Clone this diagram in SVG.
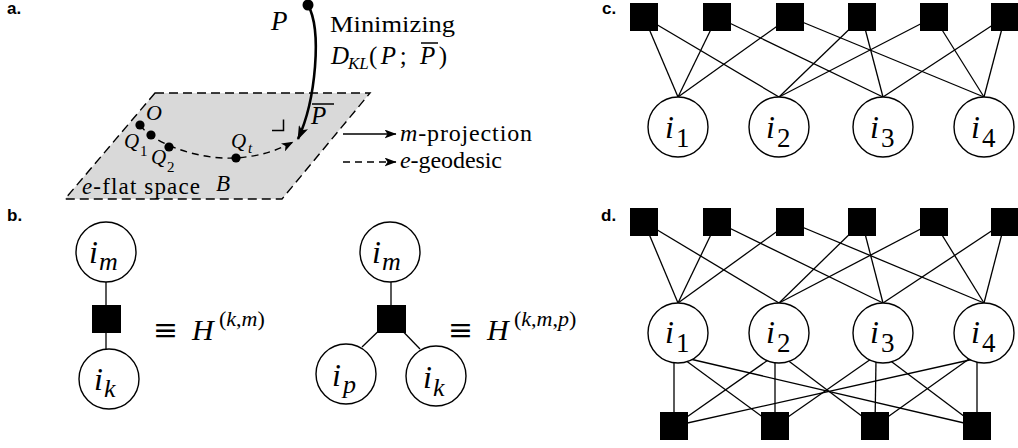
<svg xmlns="http://www.w3.org/2000/svg" width="1018" height="448" viewBox="0 0 1018 448">
<style>
.lbl{font-family:"Liberation Sans",Arial,sans-serif;font-weight:bold;font-size:17px;fill:#000}
.rm{font-style:normal;fill:#000}
.it{font-style:italic;fill:#000}
.edge{stroke:#000;stroke-width:1.3;fill:none}
.fac{fill:#000}
.var{fill:#fff;stroke:#000;stroke-width:1.4}
.dash{stroke:#000;stroke-width:1.4;fill:none;stroke-dasharray:7 5}
</style>
<defs>
<marker id="ahBig" viewBox="0 0 14 10" refX="13" refY="5" markerWidth="14" markerHeight="10" markerUnits="userSpaceOnUse" orient="auto"><path d="M0,0 L14,5 L0,10 L3.5,5 z" fill="#000"/></marker>
<marker id="ah" viewBox="0 0 12 9" refX="11.5" refY="4.5" markerWidth="12" markerHeight="9" markerUnits="userSpaceOnUse" orient="auto"><path d="M0,0 L12,4.5 L0,9 L3,4.5 z" fill="#000"/></marker>
</defs>
<rect width="1018" height="448" fill="#fff"/>

<!-- Panel labels -->
<text class="lbl" x="7" y="14">a.</text>
<text class="lbl" x="7" y="221">b.</text>
<text class="lbl" x="602" y="14">c.</text>
<text class="lbl" x="601" y="221">d.</text>

<g font-family="Liberation Serif, Times New Roman, Times, serif">
<!-- Panel a -->
<g id="plane">
<polygon points="155,93 370,93 282,199 65,199" fill="#d9d9d9" stroke="#000" stroke-width="1.4" stroke-dasharray="9 5"/>
<text class="it" x="82" y="194" font-size="23" textLength="118" lengthAdjust="spacing">e<tspan class="rm">-flat space</tspan></text>
<text class="it" x="216" y="191" font-size="23">B</text>
</g>
<g id="a-connectors">
<path class="dash" d="M140,125 C152,142 195,160 236,158 C262,156 278,150 293,142" marker-end="url(#ah)"/>
<path d="M308,5 C322,30 316,100 298,139" stroke="#000" stroke-width="2.6" fill="none" marker-end="url(#ahBig)"/>
<path d="M272,130.5 H283.5 V119.5" stroke="#000" stroke-width="1.5" fill="none"/>
<path d="M343,134 H396" stroke="#000" stroke-width="1.4" marker-end="url(#ah)"/>
<path class="dash" d="M343,162 H396" marker-end="url(#ah)"/>
</g>
<g id="P">
<circle cx="308" cy="5" r="5.5" fill="#000"/>
<text class="it" x="271" y="30" font-size="27">P</text>
</g>
<g id="Pbar">
<text class="it" x="311" y="124" font-size="25">P</text>
<line x1="312" y1="104" x2="334" y2="104" stroke="#000" stroke-width="1.5"/>
</g>
<g id="O"><circle cx="140" cy="125" r="4.6" fill="#000"/><text class="it" x="146" y="120" font-size="22">O</text></g>
<g id="Q1"><circle cx="151" cy="135" r="4.6" fill="#000"/><text class="it" x="124" y="148" font-size="21">Q</text><text class="rm" x="140" y="156" font-size="15">1</text></g>
<g id="Q2"><circle cx="169" cy="147" r="4.6" fill="#000"/><text class="it" x="151" y="164" font-size="21">Q</text><text class="rm" x="167" y="172" font-size="15">2</text></g>
<g id="Qt"><circle cx="236" cy="158" r="4.6" fill="#000"/><text class="it" x="231" y="148" font-size="21">Q</text><text class="it" x="248" y="153" font-size="15">t</text></g>
<g id="min-text">
<text class="rm" x="330" y="32" font-size="24" textLength="125" lengthAdjust="spacingAndGlyphs">Minimizing</text>
<text class="it" x="331" y="64" font-size="25">D</text>
<text class="it" x="348" y="69" font-size="17">KL</text>
<text class="rm" x="369" y="64" font-size="25" textLength="78" lengthAdjust="spacing">(<tspan class="it">P</tspan>; <tspan class="it">P</tspan>)</text>
<line x1="421" y1="43" x2="438" y2="43" stroke="#000" stroke-width="1.5"/>
</g>
<g id="legend">
<text class="it" x="400" y="141" font-size="24" textLength="132" lengthAdjust="spacing">m<tspan class="rm">-projection</tspan></text>
<text class="it" x="400" y="168" font-size="24" textLength="102" lengthAdjust="spacing">e<tspan class="rm">-geodesic</tspan></text>
</g>

<!-- Panel b -->
<g id="b-connectors">
<line class="edge" x1="106" y1="282" x2="106" y2="350"/>
<line class="edge" x1="391" y1="282" x2="391" y2="319"/>
<line class="edge" x1="391" y1="319" x2="362" y2="347"/>
<line class="edge" x1="391" y1="319" x2="420" y2="349"/>
</g>
<g id="b1-im"><circle class="var" cx="106" cy="252" r="30"/><text class="it" x="89" y="263" font-size="32">i</text><text class="it" x="99" y="270" font-size="26">m</text></g>
<g id="b1-f"><rect class="fac" x="92" y="305" width="29" height="28"/></g>
<g id="b1-ik"><circle class="var" cx="109" cy="379" r="30"/><text class="it" x="94" y="390" font-size="32">i</text><text class="it" x="104" y="397" font-size="26">k</text></g>
<g id="b1-eq"><text x="153" y="340" font-size="30" font-family="DejaVu Serif, serif" textLength="25" lengthAdjust="spacingAndGlyphs">≡</text><text class="it" x="192" y="340" font-size="30">H</text><text class="it" x="219" y="326" font-size="22"><tspan class="rm">(</tspan>k<tspan class="rm">,</tspan>m<tspan class="rm">)</tspan></text></g>

<g id="b2-im"><circle class="var" cx="390" cy="252" r="30"/><text class="it" x="372" y="263" font-size="32">i</text><text class="it" x="382" y="270" font-size="26">m</text></g>
<g id="b2-f"><rect class="fac" x="377" y="305" width="29" height="28"/></g>
<g id="b2-ip"><circle class="var" cx="346" cy="374" r="30"/><text class="it" x="332" y="386" font-size="32">i</text><text class="it" x="343" y="393" font-size="26">p</text></g>
<g id="b2-ik"><circle class="var" cx="436" cy="376" r="30"/><text class="it" x="423" y="388" font-size="32">i</text><text class="it" x="433" y="396" font-size="26">k</text></g>
<g id="b2-eq"><text x="448" y="340" font-size="30" font-family="DejaVu Serif, serif" textLength="25" lengthAdjust="spacingAndGlyphs">≡</text><text class="it" x="487" y="340" font-size="30">H</text><text class="it" x="514" y="326" font-size="22"><tspan class="rm">(</tspan>k<tspan class="rm">,</tspan>m<tspan class="rm">,</tspan>p<tspan class="rm">)</tspan></text></g>

<!-- Panel c -->
<g id="c-connectors">
<line class="edge" x1="644" y1="17" x2="678" y2="97"/>
<line class="edge" x1="644" y1="17" x2="779" y2="97"/>
<line class="edge" x1="717" y1="17" x2="678" y2="97"/>
<line class="edge" x1="717" y1="17" x2="883" y2="97"/>
<line class="edge" x1="790" y1="17" x2="678" y2="97"/>
<line class="edge" x1="790" y1="17" x2="984" y2="97"/>
<line class="edge" x1="862" y1="17" x2="779" y2="97"/>
<line class="edge" x1="862" y1="17" x2="883" y2="97"/>
<line class="edge" x1="934" y1="17" x2="779" y2="97"/>
<line class="edge" x1="934" y1="17" x2="984" y2="97"/>
<line class="edge" x1="1005" y1="17" x2="883" y2="97"/>
<line class="edge" x1="1005" y1="17" x2="984" y2="97"/>
</g>
<g id="c-f1"><rect class="fac" x="630" y="3" width="28" height="28"/></g>
<g id="c-f2"><rect class="fac" x="703" y="3" width="28" height="28"/></g>
<g id="c-f3"><rect class="fac" x="776" y="3" width="28" height="28"/></g>
<g id="c-f4"><rect class="fac" x="848" y="3" width="28" height="28"/></g>
<g id="c-f5"><rect class="fac" x="920" y="3" width="28" height="28"/></g>
<g id="c-f6"><rect class="fac" x="991" y="3" width="28" height="28"/></g>
<g id="c-i1"><circle class="var" cx="678" cy="127" r="30"/><text class="it" x="665" y="138" font-size="32">i</text><text class="rm" x="676" y="147" font-size="27">1</text></g>
<g id="c-i2"><circle class="var" cx="779" cy="127" r="30"/><text class="it" x="766" y="138" font-size="32">i</text><text class="rm" x="777" y="147" font-size="27">2</text></g>
<g id="c-i3"><circle class="var" cx="883" cy="127" r="30"/><text class="it" x="870" y="138" font-size="32">i</text><text class="rm" x="881" y="147" font-size="27">3</text></g>
<g id="c-i4"><circle class="var" cx="984" cy="127" r="30"/><text class="it" x="971" y="138" font-size="32">i</text><text class="rm" x="982" y="147" font-size="27">4</text></g>

<!-- Panel d -->
<g id="d-connectors">
<line class="edge" x1="644" y1="222" x2="678" y2="303"/>
<line class="edge" x1="644" y1="222" x2="779" y2="303"/>
<line class="edge" x1="717" y1="222" x2="678" y2="303"/>
<line class="edge" x1="717" y1="222" x2="883" y2="303"/>
<line class="edge" x1="790" y1="222" x2="678" y2="303"/>
<line class="edge" x1="790" y1="222" x2="984" y2="303"/>
<line class="edge" x1="862" y1="222" x2="779" y2="303"/>
<line class="edge" x1="862" y1="222" x2="883" y2="303"/>
<line class="edge" x1="934" y1="222" x2="779" y2="303"/>
<line class="edge" x1="934" y1="222" x2="984" y2="303"/>
<line class="edge" x1="1005" y1="222" x2="883" y2="303"/>
<line class="edge" x1="1005" y1="222" x2="984" y2="303"/>
<line class="edge" x1="674" y1="426" x2="674" y2="360"/>
<line class="edge" x1="674" y1="426" x2="771" y2="358"/>
<line class="edge" x1="674" y1="426" x2="974" y2="359"/>
<line class="edge" x1="775" y1="426" x2="685" y2="360"/>
<line class="edge" x1="775" y1="426" x2="775" y2="360"/>
<line class="edge" x1="775" y1="426" x2="871" y2="359"/>
<line class="edge" x1="875" y1="426" x2="786" y2="359"/>
<line class="edge" x1="875" y1="426" x2="876" y2="360"/>
<line class="edge" x1="875" y1="426" x2="969" y2="359"/>
<line class="edge" x1="977" y1="426" x2="690" y2="359"/>
<line class="edge" x1="977" y1="426" x2="888" y2="359"/>
<line class="edge" x1="977" y1="426" x2="977" y2="360"/>
</g>
<g id="d-f1"><rect class="fac" x="630" y="208" width="28" height="28"/></g>
<g id="d-f2"><rect class="fac" x="703" y="208" width="28" height="28"/></g>
<g id="d-f3"><rect class="fac" x="776" y="208" width="28" height="28"/></g>
<g id="d-f4"><rect class="fac" x="848" y="208" width="28" height="28"/></g>
<g id="d-f5"><rect class="fac" x="920" y="208" width="28" height="28"/></g>
<g id="d-f6"><rect class="fac" x="991" y="208" width="28" height="28"/></g>
<g id="d-i1"><circle class="var" cx="678" cy="333" r="30"/><text class="it" x="665" y="343" font-size="32">i</text><text class="rm" x="676" y="352" font-size="27">1</text></g>
<g id="d-i2"><circle class="var" cx="779" cy="333" r="30"/><text class="it" x="766" y="343" font-size="32">i</text><text class="rm" x="777" y="352" font-size="27">2</text></g>
<g id="d-i3"><circle class="var" cx="883" cy="333" r="30"/><text class="it" x="870" y="343" font-size="32">i</text><text class="rm" x="881" y="352" font-size="27">3</text></g>
<g id="d-i4"><circle class="var" cx="984" cy="333" r="30"/><text class="it" x="971" y="343" font-size="32">i</text><text class="rm" x="982" y="352" font-size="27">4</text></g>
<g id="d-g1"><rect class="fac" x="660" y="412" width="28" height="28"/></g>
<g id="d-g2"><rect class="fac" x="761" y="412" width="28" height="28"/></g>
<g id="d-g3"><rect class="fac" x="861" y="412" width="28" height="28"/></g>
<g id="d-g4"><rect class="fac" x="963" y="412" width="28" height="28"/></g>
</g>
</svg>
